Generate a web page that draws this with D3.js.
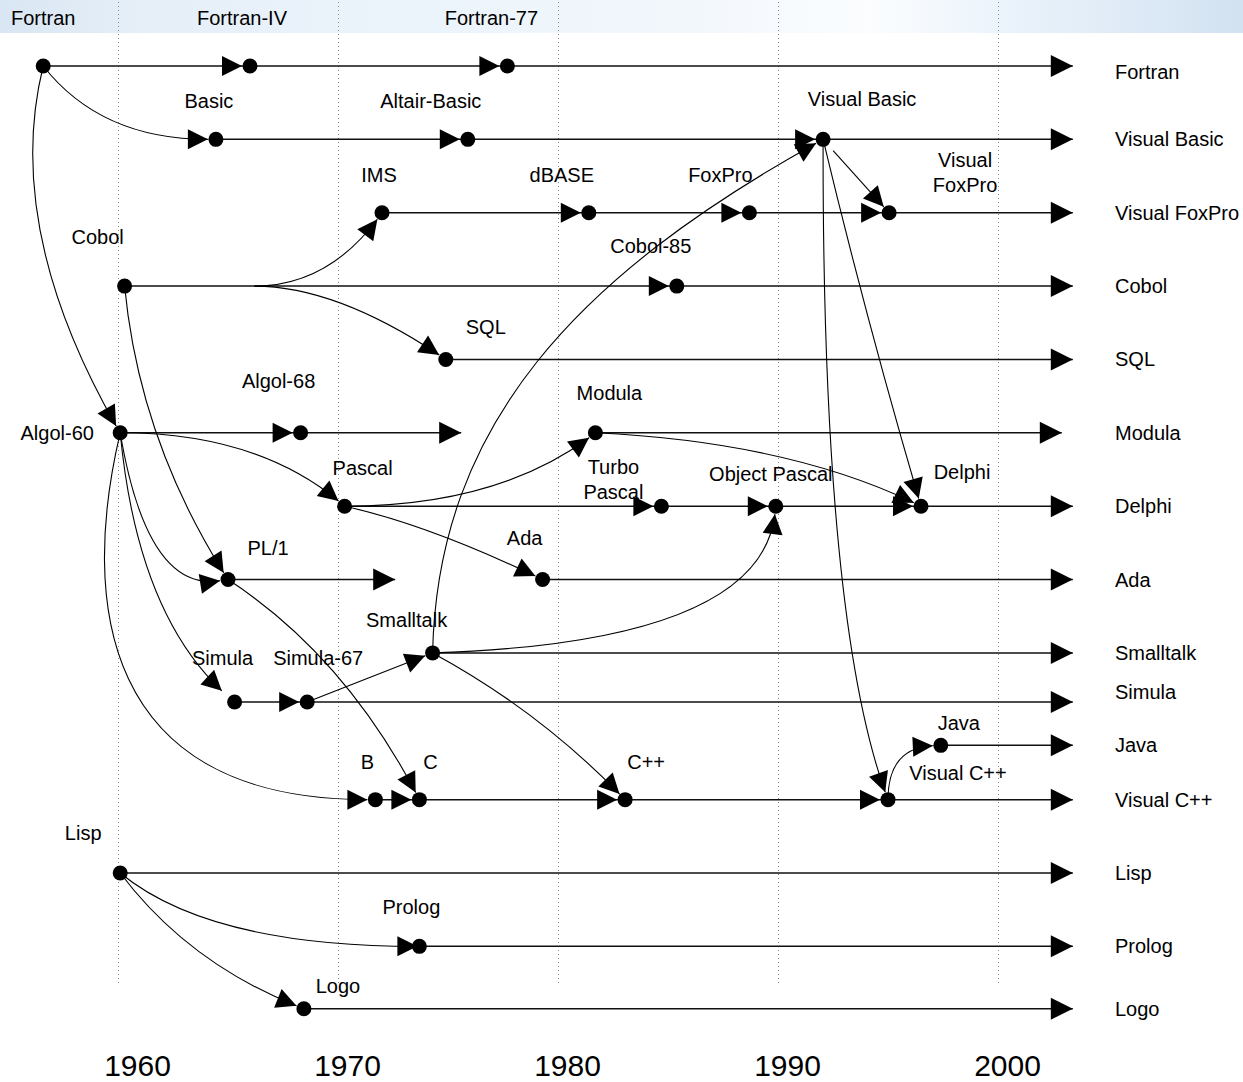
<!DOCTYPE html>
<html>
<head>
<meta charset="utf-8">
<script src="https://cdn.jsdelivr.net/npm/d3@7"></script>
<style>
  body { margin: 0; background: #fff; }
  svg { display: block; }
</style>
</head>
<body>
<script>
// decades on the time axis
var decades = [1960, 1970, 1980, 1990, 2000];

// lanes, top to bottom, and their row number
var laneNames = ["Fortran", "Visual Basic", "Visual FoxPro", "Cobol", "SQL", "Modula", "Delphi", "Ada",
                 "Smalltalk", "Simula", "Java", "Visual C++", "Lisp", "Prolog", "Logo"];
var laneRows = [0, 1, 2, 3, 4, 5, 6, 7, 8, 8.67, 9.26, 10, 11, 12, 12.85];

// languages: name, year as drawn, lane it sits on
var langNames = ["Fortran", "Fortran-IV", "Fortran-77", "Basic", "Altair-Basic", "Visual Basic",
                 "IMS", "dBASE", "FoxPro", "Visual FoxPro", "Cobol", "Cobol-85", "SQL",
                 "Algol-60", "Algol-68", "Modula", "Pascal", "Turbo Pascal", "Object Pascal", "Delphi",
                 "PL/1", "Ada", "Smalltalk", "Simula", "Simula-67", "Java",
                 "B", "C", "C++", "Visual C++", "Lisp", "Prolog", "Logo"];
var langYears = [1956.6, 1966.0, 1977.7, 1964.45, 1975.9, 1992.05,
                 1972.0, 1981.4, 1988.7, 1995.05, 1960.3, 1985.4, 1974.9,
                 1960.1, 1968.3, 1981.7, 1970.3, 1984.7, 1989.9, 1996.5,
                 1965.0, 1979.3, 1974.3, 1965.3, 1968.6, 1997.4,
                 1971.7, 1973.7, 1983.05, 1995.0, 1960.1, 1973.7, 1968.45];
var langLanes = ["Fortran", "Fortran", "Fortran", "Visual Basic", "Visual Basic", "Visual Basic",
                 "Visual FoxPro", "Visual FoxPro", "Visual FoxPro", "Visual FoxPro", "Cobol", "Cobol", "SQL",
                 "Modula", "Modula", "Modula", "Delphi", "Delphi", "Delphi", "Delphi",
                 "Ada", "Ada", "Smalltalk", "Simula", "Simula", "Java",
                 "Visual C++", "Visual C++", "Visual C++", "Visual C++", "Lisp", "Prolog", "Logo"];

// successor on the same lane
var stepFrom = ["Fortran", "Fortran-IV", "Basic", "Altair-Basic", "IMS", "dBASE", "FoxPro", "Cobol",
                "Algol-60", "Pascal", "Turbo Pascal", "Object Pascal", "Simula", "B", "C", "C++"];
var stepTo = ["Fortran-IV", "Fortran-77", "Altair-Basic", "Visual Basic", "dBASE", "FoxPro", "Visual FoxPro", "Cobol-85",
              "Algol-68", "Turbo Pascal", "Object Pascal", "Delphi", "Simula-67", "C", "C++", "Visual C++"];

// where each line runs out
var endFrom = ["Fortran-77", "Visual Basic", "Visual FoxPro", "Cobol-85", "SQL", "Algol-68", "Modula", "Delphi",
               "PL/1", "Ada", "Smalltalk", "Simula-67", "Java", "Visual C++", "Lisp", "Prolog", "Logo"];
var endYear = [2003.4, 2003.4, 2003.4, 2003.4, 2003.4, 1975.6, 2002.9, 2003.4,
               1972.6, 2003.4, 2003.4, 2003.4, 2003.4, 2003.4, 2003.4, 2003.4, 2003.4];

// influences between lanes (leaveYear: where it branches off the source line, if not at the node)
var inflFrom = ["Fortran", "Fortran", "Cobol", "Cobol", "Cobol", "Algol-60", "Algol-60", "Algol-60", "Algol-60",
                "Pascal", "Pascal", "PL/1", "Simula-67", "Smalltalk", "Smalltalk", "Smalltalk", "Modula",
                "Visual Basic", "Visual Basic", "Visual Basic", "Visual C++", "Lisp", "Lisp"];
var inflTo = ["Basic", "Algol-60", "IMS", "SQL", "PL/1", "Pascal", "PL/1", "Simula", "B",
              "Modula", "Ada", "C", "Smalltalk", "Visual Basic", "Object Pascal", "C++", "Delphi",
              "Visual FoxPro", "Delphi", "Visual C++", "Java", "Prolog", "Logo"];
var inflLeaveYear = [null, null, 1966.2, 1966.2, null, null, null, null, null,
                     null, null, null, null, null, null, null, null,
                     null, null, null, null, null, null];

// ---- layout (not data) ----
var width = 1243, height = 1082;
var font = "'Liberation Sans', Arial, sans-serif";

function quad(qx, qy) { return [2 * qx / 3, 2 * qy / 3, 1 / 3 + 2 * qx / 3, 1 / 3 + 2 * qy / 3]; }
// cubic control points as fractions of (dx, dy)
var bend = {
  "Fortran>Basic": quad(0.35, 1),
  "Fortran>Algol-60": quad(-0.55, 0.45),
  "Cobol>IMS": quad(0.59, 0),
  "Cobol>SQL": quad(0.44, 0),
  "Cobol>PL/1": quad(0.146, 0.53),
  "Algol-60>Pascal": quad(0.62, 0),
  "Algol-60>PL/1": quad(0.27, 1.08),
  "Algol-60>Simula": quad(0.167, 0.69),
  "Algol-60>B": [-0.16, 0.456, -0.083, 1],
  "Pascal>Modula": quad(0.62, 0),
  "Pascal>Ada": quad(0.43, 0.26),
  "PL/1>C": quad(0.61, 0.35),
  "Smalltalk>Visual Basic": [0.013, 0.45, 0.38, 0.74],
  "Smalltalk>Object Pascal": quad(0.956, 0.076),
  "Smalltalk>C++": quad(0.557, 0.40),
  "Modula>Delphi": quad(0.6, 0.13),
  "Visual Basic>Delphi": quad(0.45, 0.5),
  "Visual Basic>Visual C++": quad(-0.015, 0.73),
  "Visual C++>Java": quad(0, 0.96),
  "Lisp>Prolog": quad(0.3, 1),
  "Lisp>Logo": quad(0.38, 0.67)
};
var arrowGap = { "Algol-60>Simula": 17, "Lisp>Prolog": 2 };
var startGap = { "Visual Basic>Visual FoxPro": 15 };

// label centre offsets from node
var labelShift = {
  "Fortran": [0, -48], "Fortran-IV": [-8, -48], "Fortran-77": [-16, -48],
  "Basic": [-7, -38], "Altair-Basic": [-37, -38], "Visual Basic": [39, -40],
  "IMS": [-3, -38], "dBASE": [-27, -38], "FoxPro": [-29, -38], "Visual FoxPro": [76, -53],
  "Cobol": [-27, -49], "Cobol-85": [-26, -40], "SQL": [40, -32],
  "Algol-60": [-63, 0], "Algol-68": [-22, -52], "Modula": [14, -40],
  "Pascal": [18, -38], "Turbo Pascal": [-48, -39], "Object Pascal": [-5, -32], "Delphi": [41, -34],
  "PL/1": [40, -32], "Ada": [-18, -42], "Smalltalk": [-26, -33],
  "Simula": [-12, -44], "Simula-67": [11, -44], "Java": [18, -22],
  "B": [-8, -38], "C": [11, -38], "C++": [21, -38], "Visual C++": [70, -27],
  "Lisp": [-37, -40], "Prolog": [-8, -39], "Logo": [34, -23]
};
var twoLine = { "Visual FoxPro": true, "Turbo Pascal": true };
var laneLabelShift = { "Fortran": 6, "Simula": -10 };

// scales
var x = d3.scaleLinear().domain([1960, 2000]).range([118, 998]);
var y = d3.scaleLinear().domain([0, 11]).range([66, 873]);

var laneRow = {};
laneNames.forEach(function(n, i) { laneRow[n] = laneRows[i]; });

var nodes = langNames.map(function(n, i) {
  return { name: n, x: x(langYears[i]), y: y(laneRow[langLanes[i]]) };
});
var byName = {};
nodes.forEach(function(d) { byName[d.name] = d; });

var svg = d3.select("body").append("svg")
    .attr("width", width)
    .attr("height", height);

// soft blue banner at the top
var defs = svg.append("defs");
var grad = defs.append("linearGradient").attr("id", "banner");
[["0", "#d9e6f3"], ["0.12", "#e6eff8"], ["0.35", "#ecf4fb"], ["0.55", "#f2f7fc"],
 ["0.7", "#fbfdff"], ["0.82", "#e9f2fa"], ["0.92", "#dde9f6"], ["1", "#d2e2f1"]].forEach(function(s) {
  grad.append("stop").attr("offset", s[0]).attr("stop-color", s[1]);
});
svg.append("rect").attr("x", 0).attr("y", 0).attr("width", width).attr("height", 33)
    .attr("fill", "url(#banner)");

// time axis: dotted decade lines and year labels
var gridBottom = 983;
var axis = d3.axisBottom(x)
    .tickValues(decades)
    .tickFormat(d3.format("d"))
    .tickSizeInner(-gridBottom)
    .tickSizeOuter(0)
    .tickPadding(72);
var gAxis = svg.append("g")
    .attr("transform", "translate(0," + gridBottom + ")")
    .call(axis)
    .attr("font-family", font)
    .attr("font-size", 30);
gAxis.select(".domain").remove();
gAxis.selectAll(".tick line")
    .attr("stroke", "#8c8c8c")
    .attr("stroke-width", 1)
    .attr("stroke-dasharray", "1,3");
gAxis.selectAll(".tick text")
    .attr("fill", "#000")
    .attr("dx", function(d, i) { return i === 0 ? 19 : 9; });

function arrowPath(tx, ty, ux, uy, len, half) {
  var bx = tx - ux * len, by = ty - uy * len;
  return "M" + tx + "," + ty +
         "L" + (bx - uy * half) + "," + (by + ux * half) +
         "L" + (bx + uy * half) + "," + (by - ux * half) + "Z";
}

var gLines = svg.append("g");
var gArrows = svg.append("g").attr("fill", "#000");

// same-lane steps
stepFrom.forEach(function(f, i) {
  var a = byName[f], b = byName[stepTo[i]];
  var p = d3.path();
  p.moveTo(a.x, a.y);
  p.lineTo(b.x, b.y);
  gLines.append("path").attr("d", p.toString())
      .attr("fill", "none").attr("stroke", "#111").attr("stroke-width", 1.5);
  gArrows.append("path").attr("d", arrowPath(b.x - 8, b.y, 1, 0, 20, 10));
});

// lines running out to the right
endFrom.forEach(function(f, i) {
  var a = byName[f], ex = x(endYear[i]);
  var p = d3.path();
  p.moveTo(a.x, a.y);
  p.lineTo(ex, a.y);
  gLines.append("path").attr("d", p.toString())
      .attr("fill", "none").attr("stroke", "#111").attr("stroke-width", 1.5);
  gArrows.append("path").attr("d", arrowPath(ex, a.y, 1, 0, 22, 11));
});

// influences
inflFrom.forEach(function(f, i) {
  var key = f + ">" + inflTo[i];
  var src = byName[f], dst = byName[inflTo[i]];
  var p0 = inflLeaveYear[i] == null ? [src.x, src.y] : [x(inflLeaveYear[i]), src.y];
  var p3 = [dst.x, dst.y];
  var fr = bend[key] || quad(0.5, 0.5);
  var gap = arrowGap[key] != null ? arrowGap[key] : 8;

  if (startGap[key]) {
    var sx = p3[0] - p0[0], sy = p3[1] - p0[1], sl = Math.hypot(sx, sy);
    p0 = [p0[0] + startGap[key] * sx / sl, p0[1] + startGap[key] * sy / sl];
  }

  var dx = p3[0] - p0[0], dy = p3[1] - p0[1];
  var c2 = [p0[0] + fr[2] * dx, p0[1] + fr[3] * dy];
  var ux = p3[0] - c2[0], uy = p3[1] - c2[1], L = Math.hypot(ux, uy);
  var tip = [p3[0] - gap * ux / L, p3[1] - gap * uy / L];

  dx = tip[0] - p0[0]; dy = tip[1] - p0[1];
  var c1 = [p0[0] + fr[0] * dx, p0[1] + fr[1] * dy];
  c2 = [p0[0] + fr[2] * dx, p0[1] + fr[3] * dy];
  ux = tip[0] - c2[0]; uy = tip[1] - c2[1]; L = Math.hypot(ux, uy);

  var p = d3.path();
  p.moveTo(p0[0], p0[1]);
  p.bezierCurveTo(c1[0], c1[1], c2[0], c2[1], tip[0], tip[1]);
  gLines.append("path").attr("d", p.toString())
      .attr("fill", "none").attr("stroke", "#000").attr("stroke-width", 1.1);
  gArrows.append("path").attr("d", arrowPath(tip[0], tip[1], ux / L, uy / L, 20, 10));
});

// language nodes
svg.append("g").selectAll("circle")
    .data(nodes)
  .enter().append("circle")
    .attr("cx", function(d) { return d.x; })
    .attr("cy", function(d) { return d.y; })
    .attr("r", 7.5)
    .attr("fill", "#000");

// node labels
var gLabels = svg.append("g")
    .attr("font-family", font)
    .attr("font-size", 20)
    .attr("text-anchor", "middle")
    .attr("fill", "#000");
nodes.forEach(function(d) {
  var s = labelShift[d.name] || [0, -38];
  var parts = twoLine[d.name] ? d.name.split(" ") : [d.name];
  parts.forEach(function(t, j) {
    gLabels.append("text")
        .attr("x", d.x + s[0])
        .attr("y", d.y + s[1] + j * 25)
        .attr("dy", "0.35em")
        .text(t);
  });
});

// lane names on the right
svg.append("g")
    .attr("font-family", font)
    .attr("font-size", 20)
    .attr("fill", "#000")
  .selectAll("text")
    .data(laneNames)
  .enter().append("text")
    .attr("x", 1115)
    .attr("y", function(d) { return y(laneRow[d]) + (laneLabelShift[d] || 0); })
    .attr("dy", "0.35em")
    .text(function(d) { return d; });
</script>
</body>
</html>
